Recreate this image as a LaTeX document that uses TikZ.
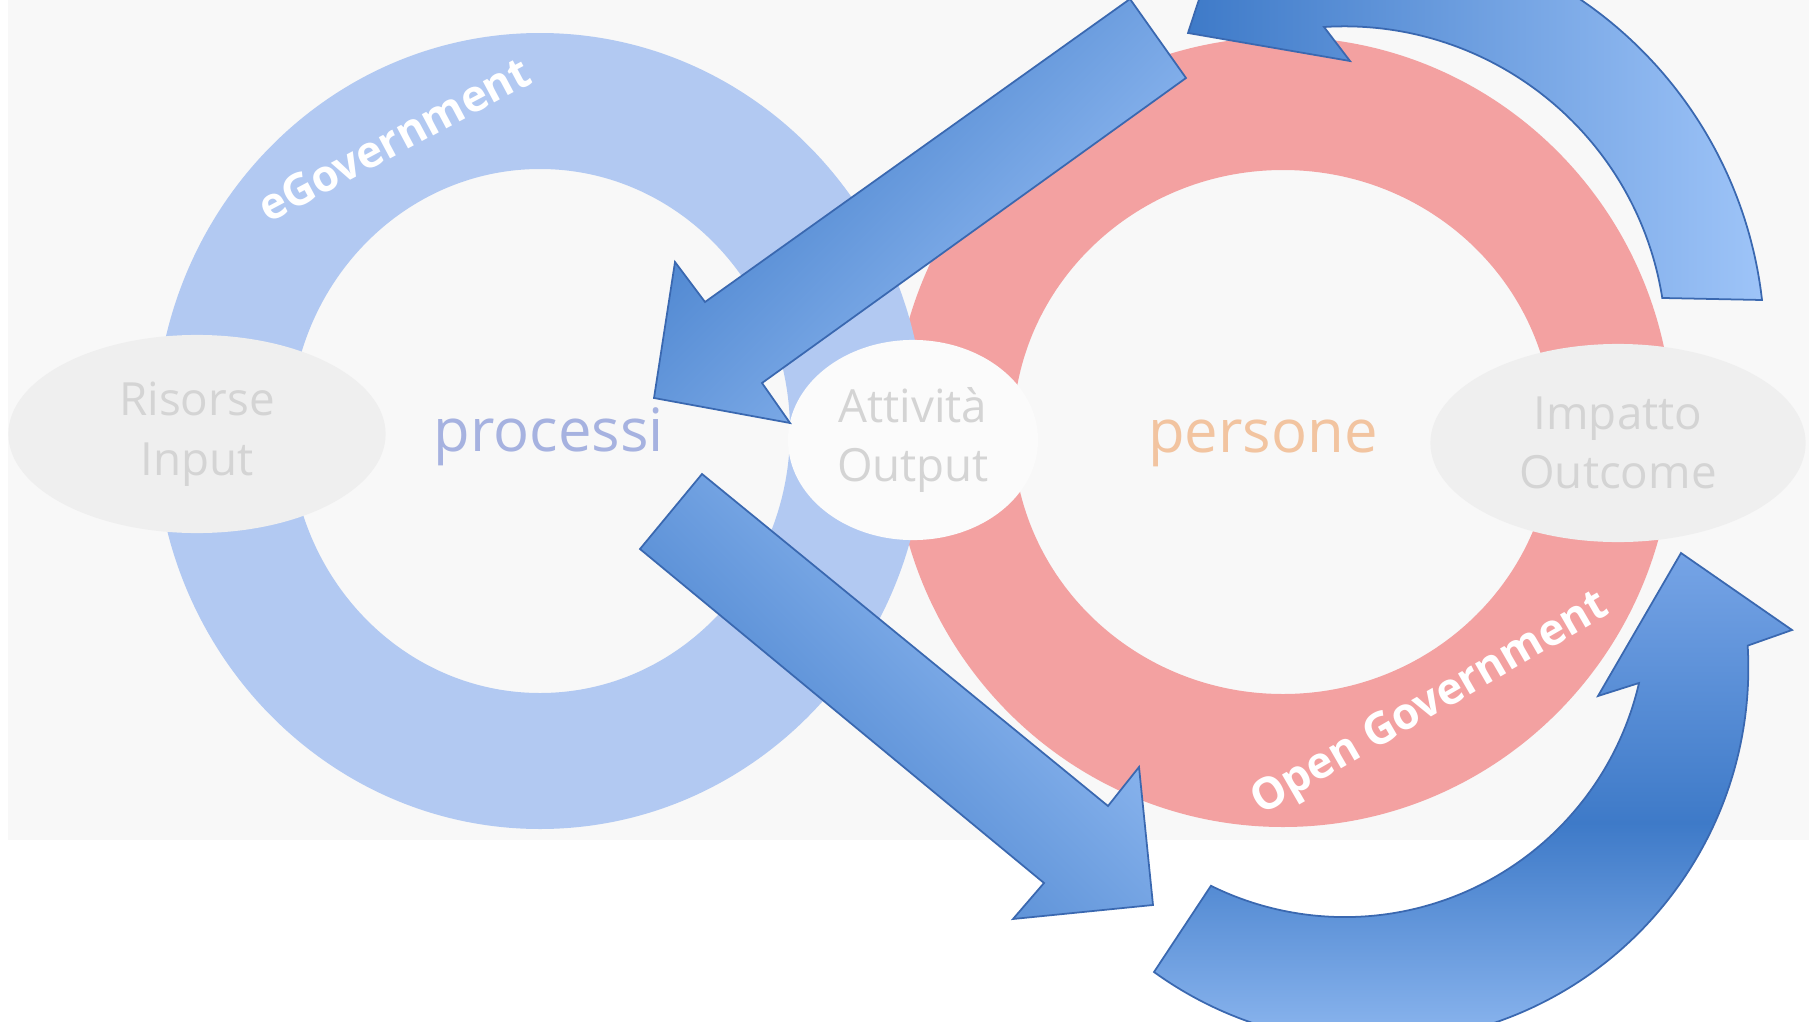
\documentclass[tikz,border=0pt]{standalone}
\usepackage{fontspec}
\setmainfont{Open Sans}
\usepackage{xcolor}
\usetikzlibrary{shapes.geometric,calc}
\definecolor{photo}{RGB}{248,248,248}
\definecolor{ringblue}{RGB}{178,201,242}
\definecolor{ringred}{RGB}{243,161,161}
\definecolor{stagegrey}{RGB}{239,239,239}
\definecolor{stagewhite}{RGB}{251,251,251}
\definecolor{stagetext}{RGB}{212,212,212}
\definecolor{procblue}{RGB}{166,178,224}
\definecolor{perspeach}{RGB}{242,196,160}
\definecolor{flowdark}{RGB}{62,122,200}
\definecolor{flowmid}{RGB}{118,164,230}
\definecolor{flowlight}{RGB}{158,196,248}
\definecolor{flowedge}{RGB}{58,104,176}
\tikzset{
    ring/.style = {even odd rule},
    stage/.style = {ellipse, fill=stagegrey, text=stagetext, align=center, inner sep=0pt,
                    font=\fontsize{13}{17}\selectfont},
    core/.style = {font=\fontsize{17}{20}\selectfont, anchor=base},
    ringlabel/.style = {text=white, font=\bfseries\fontsize{12.5}{15}\selectfont},
    flow/.style = {draw=flowedge, line width=0.5pt, line join=miter}
}

\begin{document}
\begin{tikzpicture}[x=0.01cm, y=-0.01cm]
    \useasboundingbox (0,0) rectangle (1809,1021);
    \clip (0,0) rectangle (1809,1021);

    % Background
    \fill[photo] (8,0) rectangle (1809,840);

    % Rings
    \fill[ring, ringred] (1283,432) ellipse[x radius=390, y radius=395] ellipse[x radius=270, y radius=262];
    \fill[ring, ringblue] (540,431) ellipse[x radius=385, y radius=398] ellipse[x radius=250, y radius=262];

    % Stages
    \node[stage, minimum width=3.77cm, minimum height=1.98cm] (input) at (197,434) {Risorse\\Input};
    \node[stage, fill=stagewhite, minimum width=2.5cm, minimum height=2cm] (output) at (913,440) {Attività\\Output};
    \node[stage, minimum width=3.75cm, minimum height=1.98cm] (outcome) at (1618,443) {Impatto\\Outcome};

    % Centres
    \node[core, text=procblue] (processi) at (549,451) {processi};
    \node[core, text=perspeach] (persone) at (1263,452) {persone};

    % Ring labels
    \node[ringlabel, rotate=28] (egov) at (394,139) {eGovernment};
    \node[ringlabel, rotate=30] (opengov) at (1431,705) {Open Government};

    % Straight arrows
    \draw[flow, top color=flowdark, bottom color=flowlight, shading angle=45]
        (1130,-1) -- (1186,78) -- (762,383) -- (790,423) -- (654,398) -- (675,262) -- (705,302) -- cycle;
    \draw[flow, top color=flowdark, bottom color=flowlight, shading angle=135]
        (702,474) -- (1108,806) -- (1139,767) -- (1153,905) -- (1013,919) -- (1044,883) -- (640,549) -- cycle;

    % Curved arrows
    \draw[flow, left color=flowdark, right color=flowlight]
        (1188,33) -- (1350,61) -- (1324,27)
        arc[start angle=-93.6, end angle=-9, radius=322]
        -- (1762,300)
        arc[start angle=-6.5, end angle=-102.2, radius=421]
        -- (1230,-95) -- cycle;
    \draw[flow, top color=flowmid, bottom color=flowlight, middle color=flowdark]
        (1154,972) arc[start angle=125.8, end angle=-3.4, radius=375]
        -- (1792,630) -- (1681,553) -- (1598,696) -- (1639,683)
        arc[start angle=13, end angle=116.3, radius=302]
        -- cycle;

\end{tikzpicture}
\end{document}
